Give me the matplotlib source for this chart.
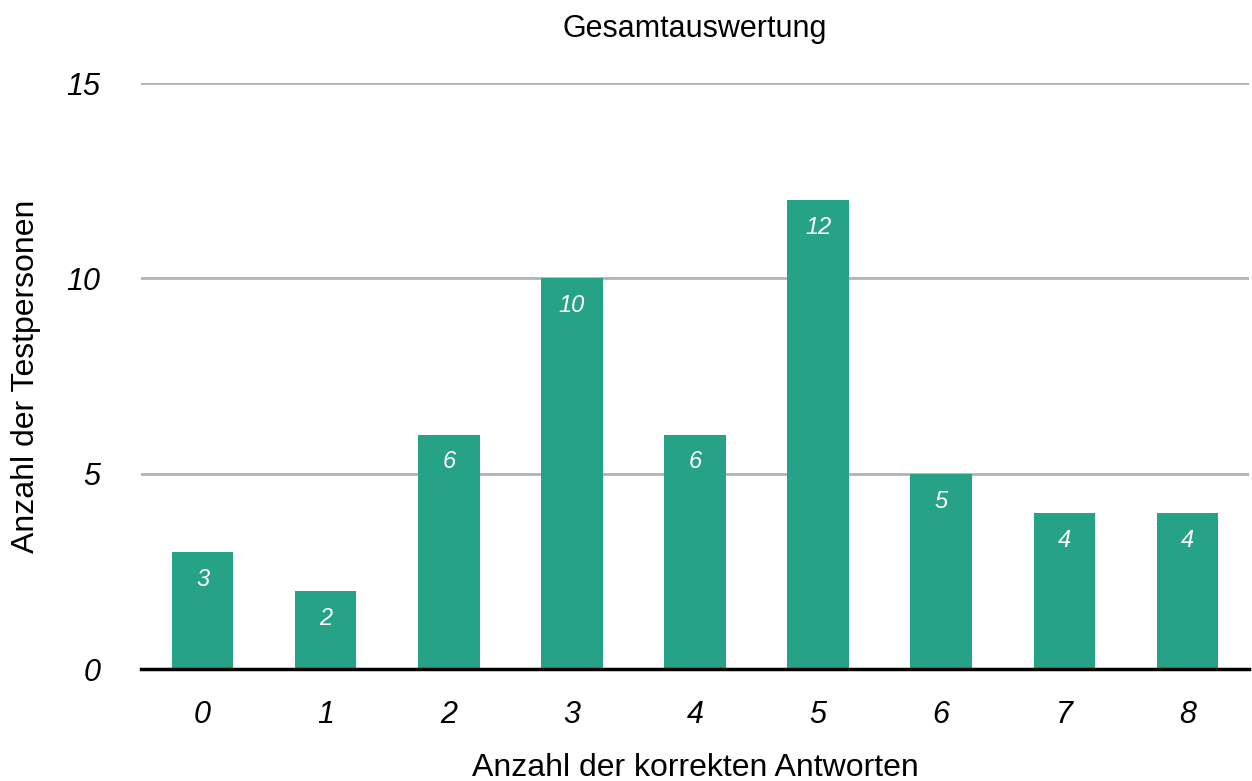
import matplotlib
matplotlib.use("Agg")
import matplotlib.pyplot as plt

categories = ["0", "1", "2", "3", "4", "5", "6", "7", "8"]
counts = [3, 2, 6, 10, 6, 12, 5, 4, 4]
yticks = [0, 5, 10, 15]

plt.rcParams['font.family'] = ['Liberation Sans', 'DejaVu Sans']

fig = plt.figure(figsize=(12.52, 7.81), dpi=100)
ax = fig.add_axes([0.1126, 0.1434, 0.885, 0.7503])

x = range(len(categories))
bars = ax.bar(x, counts, width=0.5, color='#26a386', zorder=3)
for xi, v in zip(x, counts):
    ax.text(xi, v - 0.7, str(v), ha='center', va='center', color='white',
            fontsize=17, fontstyle='italic', zorder=4)

ax.set_xlim(-0.5, len(categories) - 0.5)
ax.set_ylim(0, 15)
ax.set_yticks(yticks)
ax.set_yticklabels([str(t) for t in yticks], fontsize=22, fontstyle='italic')
ax.set_xticks(list(x))
ax.set_xticklabels(categories, fontsize=22, fontstyle='italic')
ax.tick_params(axis='both', length=0)
ax.tick_params(axis='y', pad=29)
ax.tick_params(axis='x', pad=22)

ax.grid(axis='y', color='#b3b3b3', linewidth=2, zorder=0)
for s in ['top', 'right', 'left']:
    ax.spines[s].set_visible(False)
ax.spines['bottom'].set_linewidth(2.5)
ax.spines['bottom'].set_zorder(5)

ax.set_title('Gesamtauswertung', fontsize=22, pad=33)
ax.set_xlabel('Anzahl der korrekten Antworten', fontsize=23, labelpad=17)
ax.set_ylabel('Anzahl der Testpersonen', fontsize=23)
ax.yaxis.set_label_coords(-0.09, 0.5)

fig.savefig('out.png', dpi=100)
